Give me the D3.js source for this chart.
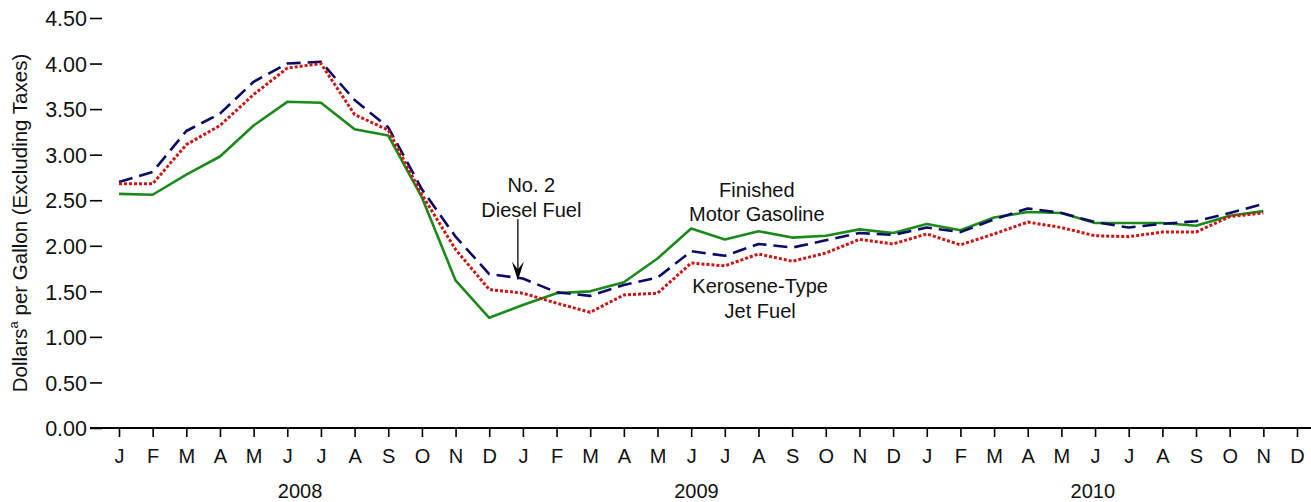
<!DOCTYPE html>
<html>
<head>
<meta charset="utf-8">
<script src="https://cdn.jsdelivr.net/npm/d3@7"></script>
<style>
	body { margin: 0; background: #fff; }
	svg text { font-family: "Liberation Sans", Arial, sans-serif; fill: #111; }
	.axis .domain { display: none; }
	.axis line { stroke: #000; stroke-width: 1.6; }
	.series { fill: none; stroke-linejoin: round; }
</style>
</head>
<body>
<div id="chart"></div>
<script>

	const monthLabels = [ "J", "F", "M", "A", "M", "J", "J", "A", "S", "O", "N", "D" ];
	const years = [ "2008", "2009", "2010" ];
	const yTicks = [ 0, 0.5, 1, 1.5, 2, 2.5, 3, 3.5, 4, 4.5 ];

	// Jan 2008 .. Nov 2010, dollars per gallon
	const gasoline = [
		2.57, 2.56, 2.78, 2.98, 3.32, 3.58, 3.57, 3.28, 3.21, 2.53, 1.62, 1.21,
		1.35, 1.48, 1.50, 1.60, 1.86, 2.19, 2.07, 2.16, 2.09, 2.11, 2.18, 2.14,
		2.24, 2.17, 2.31, 2.37, 2.36, 2.25, 2.25, 2.25, 2.22, 2.33, 2.38
	];
	const diesel = [
		2.70, 2.81, 3.26, 3.45, 3.80, 4.00, 4.02, 3.60, 3.30, 2.62, 2.10, 1.69,
		1.64, 1.49, 1.45, 1.57, 1.65, 1.94, 1.89, 2.02, 1.98, 2.06, 2.14, 2.12,
		2.20, 2.15, 2.29, 2.41, 2.36, 2.26, 2.20, 2.24, 2.27, 2.36, 2.46
	];
	const jetFuel = [
		2.68, 2.68, 3.11, 3.32, 3.66, 3.95, 4.00, 3.44, 3.27, 2.56, 1.96, 1.52,
		1.48, 1.37, 1.27, 1.46, 1.48, 1.81, 1.78, 1.91, 1.83, 1.92, 2.07, 2.02,
		2.13, 2.01, 2.13, 2.26, 2.20, 2.11, 2.10, 2.15, 2.15, 2.32, 2.36
	];

	const seriesList = [
		{ name: "gasoline", values: gasoline, color: "#1b8a1b", dash: null, width: 2.6 },
		{ name: "diesel", values: diesel, color: "#0b0b66", dash: "14,7", width: 2.6 },
		{ name: "jet", values: jetFuel, color: "#cc1414", dash: "3,2", width: 3 }
	];

	const labels = [
		{ lines: [ "No. 2", "Diesel Fuel" ], at: 12.25, value: 2.59 },
		{ lines: [ "Finished", "Motor Gasoline" ], at: 18.95, value: 2.54 },
		{ lines: [ "Kerosene-Type", "Jet Fuel" ], at: 19.05, value: 1.48 }
	];

	const width = 1311;
	const height = 502;
	const fontSize = "20px";
	const months = d3.range(years.length * 12);

	const x = d3.scaleLinear().domain([0, months.length - 1]).range([119, 1297]);
	const y = d3.scaleLinear().domain([0, 4.5]).range([428, 18]);

	const svg = d3.select("#chart")
		.append("svg")
			.attr("width", width)
			.attr("height", height);

	// y axis
	svg.append("g")
		.attr("class", "axis")
		.attr("transform", "translate(102,0)")
		.call(d3.axisLeft(y).tickValues(yTicks).tickSize(12).tickPadding(3).tickFormat(d3.format(".2f")))
		.selectAll("text")
			.style("font-size", "21.5px")
			.attr("dy", "0.36em");

	// x axis
	svg.append("line")
		.attr("x1", 90)
		.attr("x2", width)
		.attr("y1", y(0))
		.attr("y2", y(0))
		.attr("stroke", "#000")
		.attr("stroke-width", 2.2);

	const xAxis = svg.append("g")
		.attr("class", "axis")
		.attr("transform", `translate(0,${ y(0) })`)
		.call(d3.axisBottom(x).tickValues(months).tickSize(9).tickPadding(12)
			.tickFormat((d) => monthLabels[d % 12]));
	xAxis.selectAll("text").style("font-size", fontSize);

	svg.append("g")
		.selectAll("text")
			.data(years).enter()
		.append("text")
			.attr("x", (d, i) => x(i * 12 + 5.38) - i * 7.5)
			.attr("y", 498)
			.attr("text-anchor", "middle")
			.style("font-size", fontSize)
			.text((d) => d);

	// y title
	const title = svg.append("text")
		.attr("transform", `translate(27,${ y(2.25) })rotate(-90)`)
		.attr("text-anchor", "middle")
		.style("font-size", "20.5px");
	title.append("tspan").text("Dollars");
	title.append("tspan").attr("dy", -9).style("font-size", "13px").text("a");
	title.append("tspan").attr("dy", 9).text(" per Gallon (Excluding Taxes)");

	// series
	const line = d3.line()
		.x((d, i) => x(i))
		.y((d) => y(d));

	svg.append("g")
		.selectAll("path")
			.data(seriesList).enter()
		.append("path")
			.attr("class", "series")
			.attr("d", (d) => line(d.values))
			.attr("stroke", (d) => d.color)
			.attr("stroke-width", (d) => d.width)
			.attr("stroke-dasharray", (d) => d.dash);

	// annotations
	const notes = svg.append("g")
		.selectAll("text")
			.data(labels).enter()
		.append("text")
			.attr("text-anchor", "middle")
			.style("font-size", fontSize)
			.attr("transform", (d) => `translate(${ x(d.at) },${ y(d.value) })`);

	notes.selectAll("tspan")
		.data((d) => d.lines).enter()
		.append("tspan")
			.attr("x", 0)
			.attr("dy", (d, i) => (i === 0 ? 0 : 24.5))
			.text((d) => d);

	// arrow to diesel
	const ax = x(12) - 5;
	const tip = y(diesel[12]) + 2;
	svg.append("line")
		.attr("x1", ax)
		.attr("x2", ax)
		.attr("y1", 219)
		.attr("y2", tip - 10)
		.attr("stroke", "#333")
		.attr("stroke-width", 1.6);

	svg.append("path")
		.attr("d", "M-6,-19L0,0L6,-19L0,-11Z")
		.attr("fill", "#000")
		.attr("transform", `translate(${ ax },${ tip })`);

</script>
</body>
</html>
